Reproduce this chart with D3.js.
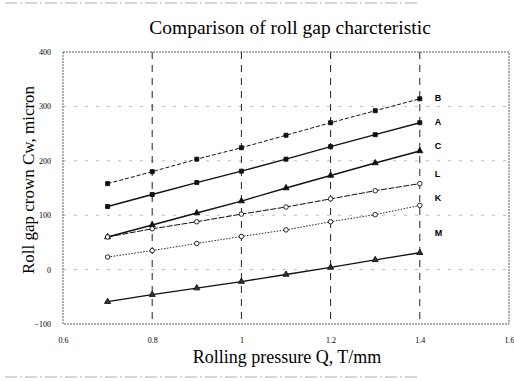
<!DOCTYPE html>
<html>
<head>
<meta charset="utf-8">
<script src="https://cdn.jsdelivr.net/npm/d3@7"></script>
<style>
  body { margin: 0; background: #fff; }
  svg { display: block; }
</style>
</head>
<body>
<div id="chart"></div>
<script>
// rolling pressure values (x)
var pressure = [0.7, 0.8, 0.9, 1.0, 1.1, 1.2, 1.3, 1.4];

// roll gap crown per curve
var curveB = [158, 180, 203, 224, 247, 270, 292, 314];
var curveA = [116, 138, 160, 181, 203, 226, 248, 270];
var curveC = [60, 82, 104, 126, 150, 173, 196, 218];
var curveL = [60, 75, 88, 102, 115, 130, 145, 158];
var curveK = [23, 35, 48, 61, 73, 88, 101, 118];
var curveM = [-59, -46, -34, -22, -9, 4, 18, 31];

var seriesNames = ["B", "A", "C", "L", "K", "M"];
// where each curve letter sits on the right
var labelValues = [315, 272, 228, 175, 131, 68];

var xTicks = [0.6, 0.8, 1, 1.2, 1.4, 1.6];
var yTicks = [-100, 0, 100, 200, 300, 400];

var width = 514, height = 381;
var margin = {top: 52, right: 5, bottom: 57, left: 63};

var svg = d3.select("#chart").append("svg")
    .attr("width", width)
    .attr("height", height);

var x = d3.scaleLinear().domain([0.6, 1.6]).range([margin.left, width - margin.right]);
var y = d3.scaleLinear().domain([-100, 400]).range([height - margin.bottom, margin.top]);

// scan edge lines
svg.append("line").attr("x1", 5).attr("x2", 420).attr("y1", 3).attr("y2", 3)
    .attr("stroke", "#999").attr("stroke-width", 0.8).attr("stroke-dasharray", "12,3,2,3");
svg.append("line").attr("x1", 5).attr("x2", 420).attr("y1", 377).attr("y2", 377)
    .attr("stroke", "#999").attr("stroke-width", 0.8).attr("stroke-dasharray", "12,3,2,3");

// horizontal grid (sparse dashes)
svg.append("g").selectAll("line")
    .data([0, 100, 200, 300])
    .enter().append("line")
    .attr("x1", x(0.6)).attr("x2", x(1.6))
    .attr("y1", function(d) { return y(d); })
    .attr("y2", function(d) { return y(d); })
    .attr("stroke", "#888")
    .attr("stroke-width", 0.6)
    .attr("stroke-dasharray", "3,8");

// vertical grid (long dashes)
svg.append("g").selectAll("line")
    .data([0.8, 1.0, 1.2, 1.4])
    .enter().append("line")
    .attr("x1", function(d) { return x(d); })
    .attr("x2", function(d) { return x(d); })
    .attr("y1", y(400)).attr("y2", y(-100))
    .attr("stroke", "#222")
    .attr("stroke-width", 1)
    .attr("stroke-dasharray", "7,6");

// frame
svg.append("rect")
    .attr("x", x(0.6)).attr("y", y(400))
    .attr("width", x(1.6) - x(0.6))
    .attr("height", y(-100) - y(400))
    .attr("fill", "none")
    .attr("stroke", "#333")
    .attr("stroke-width", 0.8)
    .attr("stroke-dasharray", "2,1");

// axes (labels only, no tick lines)
var xAxis = d3.axisBottom(x).tickValues(xTicks).tickSize(0).tickPadding(13)
    .tickFormat(function(d) { return d === 1 ? "1" : d3.format(".1f")(d); });
var gx = svg.append("g").attr("transform", "translate(0," + y(-100) + ")").call(xAxis);
gx.select(".domain").remove();
gx.selectAll("text").attr("font-family", "Liberation Serif").attr("font-size", 8).attr("fill", "#000");

var yAxis = d3.axisLeft(y).tickValues(yTicks).tickSize(0).tickPadding(12);
var gy = svg.append("g").attr("transform", "translate(" + x(0.6) + ",0)").call(yAxis);
gy.select(".domain").remove();
gy.selectAll("text").attr("font-family", "Liberation Serif").attr("font-size", 8).attr("fill", "#000");

// title and axis titles
svg.append("text")
    .attr("x", 290).attr("y", 34)
    .attr("text-anchor", "middle")
    .attr("font-family", "Liberation Serif")
    .attr("font-size", 19.5)
    .text("Comparison of roll gap charcteristic");

svg.append("text")
    .attr("x", 287).attr("y", 363)
    .attr("text-anchor", "middle")
    .attr("font-family", "Liberation Serif")
    .attr("font-size", 18)
    .text("Rolling pressure Q, T/mm");

svg.append("text")
    .attr("transform", "translate(34,180) rotate(-90)")
    .attr("text-anchor", "middle")
    .attr("font-family", "Liberation Serif")
    .attr("font-size", 17)
    .text("Roll gap crown Cw, micron");

// series
var series = [
    {name: "B", values: curveB, dash: "4,2", width: 1, marker: "square", fill: "#111"},
    {name: "A", values: curveA, dash: null, width: 1.4, marker: "square", fill: "#111"},
    {name: "C", values: curveC, dash: null, width: 1.4, marker: "triangle", fill: "#111"},
    {name: "L", values: curveL, dash: "6,1.5", width: 1, marker: "circle", fill: "#fff"},
    {name: "K", values: curveK, dash: "1.5,1.5", width: 0.9, marker: "circle", fill: "#fff"},
    {name: "M", values: curveM, dash: null, width: 1.3, marker: "triangle", fill: "#333"}
];

var line = d3.line()
    .x(function(d) { return x(d[0]); })
    .y(function(d) { return y(d[1]); });

series.forEach(function(s) {
    var pts = pressure.map(function(p, i) { return [p, s.values[i]]; });
    svg.append("path")
        .datum(pts)
        .attr("d", line)
        .attr("fill", "none")
        .attr("stroke", "#111")
        .attr("stroke-width", s.width)
        .attr("stroke-dasharray", s.dash);

    var sym = s.marker === "square" ? d3.symbolSquare : (s.marker === "triangle" ? d3.symbolTriangle : d3.symbolCircle);
    svg.append("g").selectAll("path")
        .data(pts)
        .enter().append("path")
        .attr("transform", function(d) { return "translate(" + x(d[0]) + "," + y(d[1]) + ")"; })
        .attr("d", d3.symbol().type(sym).size(s.marker === "circle" ? 16 : 16))
        .attr("fill", s.fill)
        .attr("stroke", "#111")
        .attr("stroke-width", 0.9);
});

// curve letters
svg.append("g").selectAll("text")
    .data(seriesNames)
    .enter().append("text")
    .attr("x", x(1.4) + 15)
    .attr("y", function(d, i) { return y(labelValues[i]) + 3; })
    .attr("font-family", "Liberation Sans")
    .attr("font-weight", "bold")
    .attr("font-size", 9)
    .text(function(d) { return d; });
</script>
</body>
</html>
